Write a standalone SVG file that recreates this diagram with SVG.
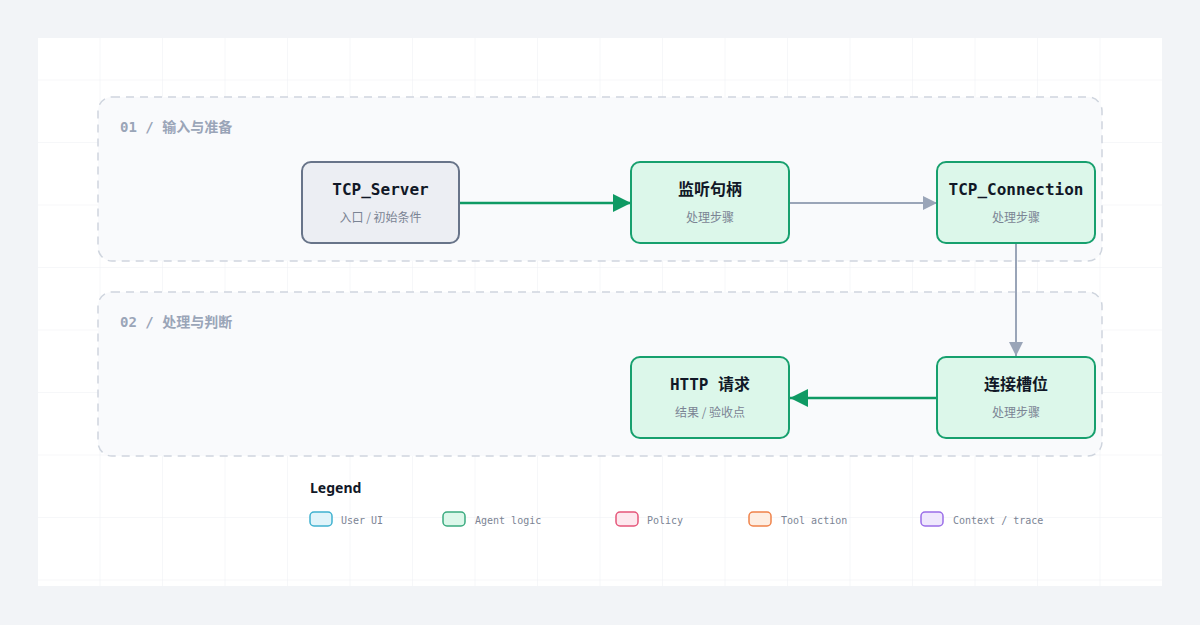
<svg xmlns="http://www.w3.org/2000/svg" width="1200" height="625" viewBox="0 0 1200 625">
<defs>
<pattern id="grid" x="38" y="18" width="62.5" height="62.5" patternUnits="userSpaceOnUse"><path d="M62.5 0V62.5M0 62.5H62.5" fill="none" stroke="#eef0f3" stroke-width="1"/></pattern>
<marker id="ag" viewBox="0 0 10 10" refX="10" refY="5" markerWidth="7" markerHeight="7" markerUnits="userSpaceOnUse" orient="auto"><path d="M0 0L10 5L0 10z" fill="#12a06a"/></marker>
<marker id="ag2" viewBox="0 0 10 10" refX="10" refY="5" markerWidth="24" markerHeight="18" orient="auto" markerUnits="userSpaceOnUse"><path d="M0 0L10 5L0 10z" fill="#0f9a64"/></marker>
<marker id="gr" viewBox="0 0 10 10" refX="10" refY="5" markerWidth="18" markerHeight="14" orient="auto" markerUnits="userSpaceOnUse"><path d="M0 0L10 5L0 10z" fill="#9aa5b8"/></marker>
</defs>
<style>
.grp{fill:#f9fafc;stroke:#cfd5de;stroke-width:1.5;stroke-dasharray:8 6}
.gl{font-family:"DejaVu Sans Mono","Noto Sans CJK SC",monospace;font-size:14px;font-weight:bold;fill:#9aa5b8}
.n{stroke-width:2}
.g{fill:#dcf7ea;stroke:#17a06e}
.s{fill:#eceef3;stroke:#687489}
.t{font-family:"DejaVu Sans Mono","Noto Sans CJK SC",monospace;font-size:16px;font-weight:bold;fill:#111827;text-anchor:middle}
.st{font-family:"Noto Sans CJK SC",sans-serif;font-size:12px;fill:#7b8494;text-anchor:middle}
.lt{font-family:"DejaVu Sans Mono",monospace;font-size:10px;fill:#7b8494}
</style>
<rect width="1200" height="625" fill="#f2f4f7"/>
<rect x="38" y="38" width="1124" height="548" fill="#ffffff"/>
<rect x="38" y="38" width="1124" height="548" fill="url(#grid)"/>
<g id="group1"><rect class="grp" x="98" y="97" width="1004" height="164" rx="14"/><text class="gl" x="120" y="132">01 / 输入与准备</text></g>
<g id="group2"><rect class="grp" x="98" y="292" width="1004" height="164" rx="14"/><text class="gl" x="120" y="327">02 / 处理与判断</text></g>
<g id="connectors" fill="none">
<path d="M460 203H631" stroke="#0f9a64" stroke-width="2.5" marker-end="url(#ag2)"/>
<path d="M790 203H937" stroke="#9aa5b8" stroke-width="2" marker-end="url(#gr)"/>
<path d="M1016 244V356" stroke="#9aa5b8" stroke-width="2" transform="" marker-end="url(#gr)"/>
<path d="M937 398H790" stroke="#0f9a64" stroke-width="2.5" marker-end="url(#ag2)"/>
</g>
<g id="n1"><rect class="n s" x="302" y="162" width="157" height="81" rx="9"/><text class="t" x="380.5" y="195">TCP_Server</text><text class="st" x="380.5" y="222">入口 / 初始条件</text></g>
<g id="n2"><rect class="n g" x="631" y="162" width="158" height="81" rx="9"/><text class="t" x="710" y="195">监听句柄</text><text class="st" x="710" y="222">处理步骤</text></g>
<g id="n3"><rect class="n g" x="937" y="162" width="158" height="81" rx="9"/><text class="t" x="1016" y="195">TCP_Connection</text><text class="st" x="1016" y="222">处理步骤</text></g>
<g id="n4"><rect class="n g" x="937" y="357" width="158" height="81" rx="9"/><text class="t" x="1016" y="390">连接槽位</text><text class="st" x="1016" y="417">处理步骤</text></g>
<g id="n5"><rect class="n g" x="631" y="357" width="158" height="81" rx="9"/><text class="t" x="710" y="390">HTTP 请求</text><text class="st" x="710" y="417">结果 / 验收点</text></g>
<g id="legend">
<text x="310" y="493" font-family="'Noto Sans',sans-serif" font-size="14" font-weight="bold" fill="#111827">Legend</text>
<rect x="310" y="512" width="22" height="14" rx="4" fill="#e0f4fa" stroke="#3fb1cf" stroke-width="1.5"/><text class="lt" x="341" y="524">User UI</text>
<rect x="443" y="512" width="22" height="14" rx="4" fill="#dcf7ea" stroke="#3aab7f" stroke-width="1.5"/><text class="lt" x="475" y="524">Agent logic</text>
<rect x="616" y="512" width="22" height="14" rx="4" fill="#fde8ee" stroke="#e5567a" stroke-width="1.5"/><text class="lt" x="647" y="524">Policy</text>
<rect x="749" y="512" width="22" height="14" rx="4" fill="#feeee2" stroke="#f0834a" stroke-width="1.5"/><text class="lt" x="781" y="524">Tool action</text>
<rect x="921" y="512" width="22" height="14" rx="4" fill="#efe8fd" stroke="#9a6ee8" stroke-width="1.5"/><text class="lt" x="953" y="524">Context / trace</text>
</g>
</svg>
